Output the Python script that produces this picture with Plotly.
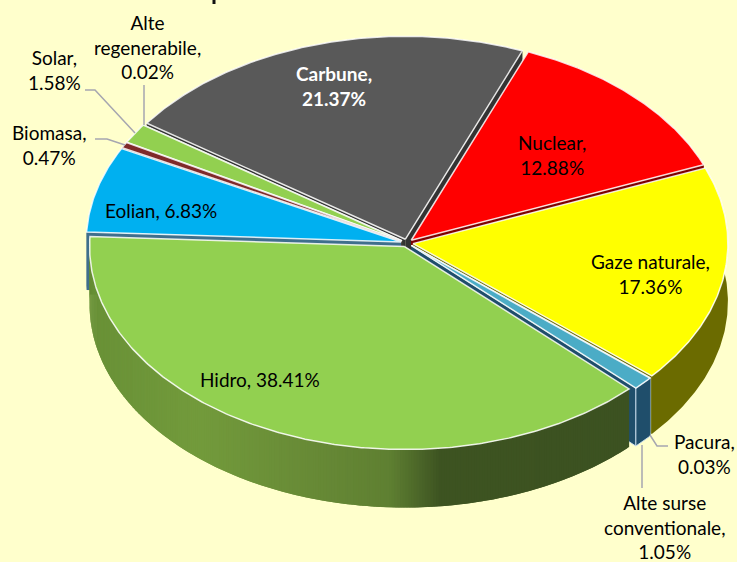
import numpy as np
import plotly.graph_objects as go

categories = ["Nuclear", "Gaze naturale", "Pacura", "Alte surse conventionale", "Hidro",
              "Eolian", "Biomasa", "Solar", "Alte regenerabile", "Carbune"]
values = [12.88, 17.36, 0.03, 1.05, 38.41, 6.83, 0.47, 1.58, 0.02, 21.37]
top_colors = ["#FF0000", "#FFFF00", "#4BACC6", "#4BACC6", "#92D050",
              "#00B0F0", "#7F2A2A", "#92D050", "#92D050", "#595959"]
wall_colors = ["#7F0000", "#6B6B00", "#1F4E6B", "#1F4E6B", "#3F5622",
               "#3F6F8C", "#4A1515", "#56792D", "#56792D", "#333333"]

# label text, x, y, colour, bold
labels = [
    ("Nuclear,<br>12.88%", 552, 155, "black", False),
    ("Gaze naturale,<br>17.36%", 650, 274, "black", False),
    ("Pacura,<br>0.03%", 704, 454, "black", False),
    ("Alte surse<br>conventionale,<br>1.05%", 664, 527, "black", False),
    ("Hidro, 38.41%", 260, 379, "black", False),
    ("Eolian, 6.83%", 161, 210, "black", False),
    ("Biomasa,<br>0.47%", 49, 145, "black", False),
    ("Solar,<br>1.58%", 54, 70, "black", False),
    ("Alte<br>regenerabile,<br>0.02%", 147, 47, "black", False),
    ("Carbune,<br>21.37%", 334, 86, "white", True),
]
leaders_x = [[144, 144], [85, 95, 135], [95, 107, 125], [668, 657, 650], [642, 642]]
leaders_y = [[85, 125], [90, 90, 133], [139, 139, 145], [446, 446, 435], [488, 445]]
title_stub_x = [214, 214]
title_stub_y = [0, 4]

CX, CY, RX, RY, DEPTH, EXPLODE, START = 407, 243, 315, 203, 58, 6, 21.8
hidro_x = [88, 200, 300, 390, 440, 630]
hidro_rgb = [(105, 145, 55), (115, 155, 60), (105, 140, 55), (95, 128, 50), (62, 84, 34), (60, 82, 33)]


def px(t):
    return CX + RX * np.sin(t), CY - RY * np.cos(t)


def poly(fig, x, y, fill, line=None, width=0.0):
    fig.add_trace(go.Scatter(x=list(x), y=list(y), mode="lines", fill="toself", fillcolor=fill,
                             line=dict(color=line or fill, width=width), hoverinfo="skip",
                             showlegend=False))


fig = go.Figure()
total = sum(values)
edges = START + np.concatenate([[0], np.cumsum(values)]) * 360 / total
slices = []
for i, v in enumerate(values):
    a, b = np.radians(edges[i]), np.radians(edges[i + 1])
    mid = (a + b) / 2
    slices.append((-np.cos(mid), i, a, b, mid))

for _, i, a, b, mid in sorted(slices):
    ox = EXPLODE * np.sin(mid)
    oy = -EXPLODE * np.cos(mid) * RY / RX
    ts = np.linspace(a, b, max(3, int(np.degrees(b - a) * 2)))
    xr, yr = px(ts)
    xr, yr = xr + ox, yr + oy
    ax, ay = CX + ox, CY + oy
    edge = "rgba(205,225,240,0.9)" if categories[i] == "Alte surse conventionale" else None
    ew = 1.0 if edge else 0.0
    # radial walls
    poly(fig, [ax, xr[0], xr[0], ax], [ay, yr[0], yr[0] + DEPTH, ay + DEPTH], wall_colors[i], edge, ew)
    poly(fig, [ax, xr[-1], xr[-1], ax], [ay, yr[-1], yr[-1] + DEPTH, ay + DEPTH], wall_colors[i], edge, ew)
    # outer wall
    if categories[i] == "Hidro":
        for k in range(len(ts) - 1):
            xm = (xr[k] + xr[k + 1]) / 2
            c = [int(np.interp(xm, hidro_x, [p[j] for p in hidro_rgb])) for j in range(3)]
            col = f"rgb({c[0]},{c[1]},{c[2]})"
            n = min(k + 2, len(ts) - 1)
            poly(fig, [xr[k], xr[n], xr[n], xr[k]],
                 [yr[k], yr[n], yr[n] + DEPTH, yr[k] + DEPTH], col)
    else:
        poly(fig, np.r_[xr, xr[::-1]], np.r_[yr, yr[::-1] + DEPTH], wall_colors[i], edge, ew)
    # top face
    poly(fig, np.r_[ax, xr, ax], np.r_[ay, yr, ay], top_colors[i], "rgba(255,255,255,0.85)", 1.5)

for lx, ly in zip(leaders_x, leaders_y):
    fig.add_trace(go.Scatter(x=lx, y=ly, mode="lines", line=dict(color="#A6A6B0", width=1.5),
                             hoverinfo="skip", showlegend=False))
fig.add_trace(go.Scatter(x=title_stub_x, y=title_stub_y, mode="lines", line=dict(color="#111111", width=3),
                         hoverinfo="skip", showlegend=False))

ann = [dict(x=x, y=y, text=f"<b>{t}</b>" if bold else t, showarrow=False, align="center",
            font=dict(color=c, size=19, family="Lato"), xref="x", yref="y",
            xanchor="center", yanchor="middle") for t, x, y, c, bold in labels]

fig.update_layout(width=737, height=562, margin=dict(l=0, r=0, t=0, b=0), autosize=False,
                  paper_bgcolor="#FFFFCC", plot_bgcolor="#FFFFCC", annotations=ann,
                  xaxis=dict(range=[0, 737], visible=False, fixedrange=True),
                  yaxis=dict(range=[562, 0], visible=False, fixedrange=True))
fig.write_html("out.html", config=dict(displayModeBar=False),
               post_script="document.body.style.margin='0';document.body.style.background='#FFFFCC';")
